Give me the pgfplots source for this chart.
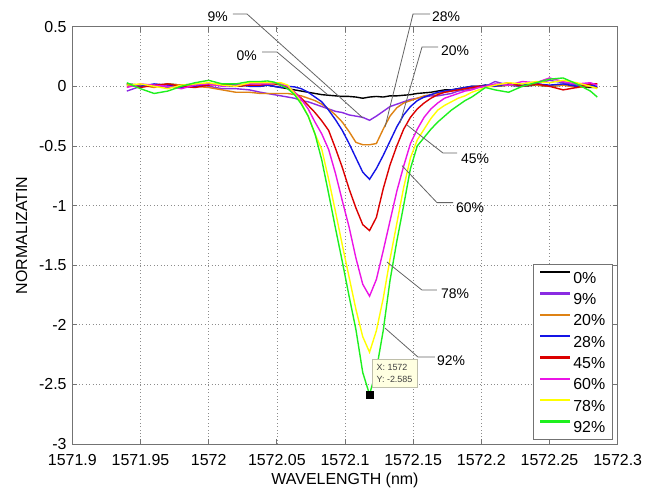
\documentclass[border=0pt]{standalone}
\usepackage{fontspec}
\setmainfont{Liberation Sans}
\usepackage{pgfplots}
\pgfplotsset{compat=1.18}
\usepackage{pgfplotstable}
\definecolor{pctzero}{RGB}{0,0,0}
\definecolor{pctnine}{RGB}{138,43,226}
\definecolor{pcttwenty}{RGB}{222,130,20}
\definecolor{pcttweight}{RGB}{20,20,230}
\definecolor{pctffive}{RGB}{220,0,0}
\definecolor{pctsixty}{RGB}{235,20,230}
\definecolor{pctseight}{RGB}{255,255,0}
\definecolor{pctntwo}{RGB}{30,240,30}
\definecolor{axgray}{RGB}{115,115,115}
\definecolor{leadgray}{RGB}{100,100,100}
\definecolor{tipbg}{RGB}{255,255,225}
\definecolor{tipedge}{RGB}{190,190,170}

\pgfplotstableread{
x        k0     k9     k20    k28    k45    k60    k78    k92
1571.940 0.02  -0.04   0.00   0.01   0.02  -0.01   0.01   0.03
1571.950 0.01   0.00   0.01   0.00  -0.01   0.02   0.02  -0.02
1571.960 0.00   0.01  -0.01   0.02   0.01   0.01   0.00  -0.06
1571.970 0.02  -0.01   0.02   0.01   0.02   0.00  -0.02  -0.04
1571.980 0.01   0.01   0.01  -0.01   0.00  -0.02   0.01   0.00
1571.990 0.00   0.02   0.00   0.00  -0.01   0.01   0.02   0.03
1572.000 0.02   0.00  -0.01   0.02   0.01   0.02   0.03   0.05
1572.010 0.01  -0.02  -0.03   0.01   0.02   0.00   0.01   0.02
1572.020 0.00  -0.02  -0.05   0.02   0.00   0.01   0.00   0.02
1572.030 0.01  -0.03  -0.05   0.00   0.01   0.02   0.03   0.04
1572.038 0.00  -0.05  -0.06   0.00   0.01   0.02   0.03   0.04
1572.043 0.01  -0.06  -0.06   0.01   0.02   0.02   0.03   0.045
1572.048 0.00  -0.07  -0.06   0.00   0.02   0.03   0.03   0.035
1572.053 -0.01 -0.08  -0.06  -0.01   0.01   0.02   0.03   0.01
1572.058 -0.02 -0.09  -0.06   0.00  -0.01   0.00   0.01  -0.02
1572.063 -0.03 -0.10  -0.07  -0.005 -0.05  -0.05  -0.06  -0.07
1572.068 -0.04 -0.12  -0.08  -0.02  -0.10  -0.11  -0.14  -0.15
1572.073 -0.05 -0.13  -0.10  -0.05  -0.16  -0.19  -0.25  -0.25
1572.078 -0.06 -0.15  -0.12  -0.09  -0.22  -0.30  -0.40  -0.40
1572.083 -0.07 -0.17  -0.15  -0.13  -0.29  -0.40  -0.53  -0.62
1572.088 -0.075 -0.19 -0.19  -0.20  -0.37  -0.53  -0.78  -0.90
1572.093 -0.08 -0.21  -0.24  -0.28  -0.52  -0.73  -1.05  -1.19
1572.098 -0.085 -0.22 -0.30  -0.37  -0.68  -0.96  -1.33  -1.47
1572.103 -0.085 -0.24 -0.38  -0.48  -0.86  -1.18  -1.60  -1.76
1572.108 -0.09 -0.25  -0.47  -0.60  -1.02  -1.44  -1.87  -2.04
1572.113 -0.10 -0.26  -0.49  -0.72  -1.16  -1.66  -2.10  -2.40
1572.118 -0.09 -0.285 -0.49  -0.78  -1.21  -1.76  -2.23  -2.585
1572.123 -0.085 -0.25 -0.48  -0.69  -1.10  -1.62  -2.05  -2.38
1572.128 -0.09 -0.21  -0.36  -0.58  -0.86  -1.38  -1.78  -2.05
1572.133 -0.08 -0.17  -0.25  -0.46  -0.66  -1.13  -1.45  -1.63
1572.138 -0.08 -0.15  -0.18  -0.34  -0.50  -0.88  -1.15  -1.30
1572.143 -0.075 -0.13 -0.14  -0.24  -0.36  -0.67  -0.85  -1.00
1572.148 -0.07 -0.11  -0.12  -0.17  -0.26  -0.48  -0.60  -0.69
1572.153 -0.06 -0.10  -0.10  -0.12  -0.19  -0.36  -0.45  -0.50
1572.158 -0.055 -0.09 -0.08  -0.09  -0.14  -0.26  -0.36  -0.43
1572.163 -0.05 -0.08  -0.07  -0.07  -0.10  -0.19  -0.27  -0.36
1572.168 -0.04 -0.08  -0.06  -0.05  -0.07  -0.14  -0.20  -0.30
1572.173 -0.03 -0.07  -0.05  -0.04  -0.05  -0.10  -0.16  -0.25
1572.178 -0.03 -0.06  -0.04  -0.03  -0.04  -0.08  -0.13  -0.20
1572.183 -0.02 -0.04  -0.03  -0.02  -0.03  -0.06  -0.10  -0.16
1572.188 -0.01 -0.03  -0.02  -0.01  -0.02  -0.04  -0.08  -0.12
1572.193 0.00  -0.02  -0.01   0.00  -0.01  -0.03  -0.05  -0.09
1572.198 0.00  -0.01   0.00   0.00   0.00  -0.01  -0.03  -0.05
1572.203 0.01   0.00   0.00   0.01   0.00   0.00  -0.01  -0.01
1572.210 0.00   0.04   0.00   0.00   0.01   0.02   0.01  -0.03
1572.220 0.01   0.01   0.01   0.02   0.03   0.01   0.03  -0.05
1572.230 0.00   0.00   0.02   0.01   0.00   0.04   0.02   0.00
1572.240 0.01   0.02   0.01   0.02   0.02   0.03   0.04   0.03
1572.250 0.00   0.05   0.00   0.01   0.00   0.07   0.03   0.06
1572.260 0.01   0.03   0.01   0.02  -0.03   0.04   0.05   0.07
1572.270 0.00   0.01  -0.01   0.00  -0.01   0.02   0.03   0.02
1572.280 -0.01  0.02   0.00   0.01   0.02   0.03   0.00  -0.04
1572.285 -0.01 -0.01  -0.01   0.00   0.02   0.01  -0.02  -0.09
}\spec

\begin{document}
\begin{tikzpicture}[font=\fontsize{16}{19}\selectfont]
\useasboundingbox (-72.3bp,-54bp) rectangle (584.7bp,444bp);
\begin{axis}[
  at={(0,0)}, anchor=south west,
  scale only axis, width=545.4bp, height=417.3bp,
  xmin=1571.9, xmax=1572.3, ymin=-3, ymax=0.5,
  xtick={1571.9,1571.95,1572,1572.05,1572.1,1572.15,1572.2,1572.25,1572.3},
  xticklabels={1571.9,1571.95,1572,1572.05,1572.1,1572.15,1572.2,1572.25,1572.3},
  ytick={-3,-2.5,-2,-1.5,-1,-0.5,0,0.5},
  yticklabels={-3,-2.5,-2,-1.5,-1,-0.5,0,0.5},
  xtick pos=both, ytick pos=both, xticklabel pos=lower, yticklabel pos=left,
  tick align=inside, major tick length=5bp,
  axis line style={axgray, line width=0.8bp},
  tick style={axgray, line width=0.8bp},
  grid=major,
  major grid style={black!45, line width=0.6bp, dash pattern=on 0.8bp off 2.6bp},
  xticklabel style={anchor=base, yshift=-21bp, inner sep=0pt},
  yticklabel style={anchor=east, xshift=-5.5bp, inner sep=0pt},
  xlabel={WAVELENGTH (nm)}, ylabel={NORMALIZATIN},
  xlabel style={at={(rel axis cs:0.5,-0.0959)}, anchor=base, inner sep=0pt},
  ylabel style={at={(rel axis cs:-0.0928,0.5)}, anchor=center, inner sep=0pt},
  clip=false,
  legend cell align=left,
  legend style={at={(rel axis cs:0.9908,0.0096)}, anchor=south east,
    draw=axgray, line width=0.8bp, fill=white,
    inner xsep=7bp, inner ysep=7bp, row sep=9.15bp,
    nodes={inner sep=0pt, text height=11.6bp, text depth=0pt},
    font=\fontsize{16}{19}\selectfont,
    /tikz/every odd column/.append style={column sep=3.3bp}},
  legend image code/.code={\fill[#1, draw=none] (0bp,4.0bp) rectangle (30bp,6.4bp);},
]
\addplot[color=pctzero, line width=1.4bp]    table[x=x,y=k0]  {\spec}; \addlegendentry{0\%}
\addplot[color=pctnine, line width=1.4bp]    table[x=x,y=k9]  {\spec}; \addlegendentry{9\%}
\addplot[color=pcttwenty, line width=1.4bp]  table[x=x,y=k20] {\spec}; \addlegendentry{20\%}
\addplot[color=pcttweight, line width=1.4bp] table[x=x,y=k28] {\spec}; \addlegendentry{28\%}
\addplot[color=pctffive, line width=1.4bp]   table[x=x,y=k45] {\spec}; \addlegendentry{45\%}
\addplot[color=pctsixty, line width=1.4bp]   table[x=x,y=k60] {\spec}; \addlegendentry{60\%}
\addplot[color=pctseight, line width=1.4bp]  table[x=x,y=k78] {\spec}; \addlegendentry{78\%}
\addplot[color=pctntwo, line width=1.4bp]    table[x=x,y=k92] {\spec}; \addlegendentry{92\%}

% leader lines
\begin{scope}[leadgray, line width=0.8bp]
\draw (axis cs:1572.01786,0.6065) -- (axis cs:1572.02813,0.6065) -- (axis cs:1572.1132,-0.2659);
\draw (axis cs:1572.03913,0.2878) -- (axis cs:1572.05013,0.2878) -- (axis cs:1572.08753,-0.0730);
\draw (axis cs:1572.16235,0.6065) -- (axis cs:1572.14988,0.6065) -- (axis cs:1572.12933,-0.3414);
\draw (axis cs:1572.16822,0.3297) -- (axis cs:1572.15648,0.3297) -- (axis cs:1572.14034,-0.3079);
\draw (axis cs:1572.18214,-0.5596) -- (axis cs:1572.17187,-0.5596) -- (axis cs:1572.14547,-0.3247);
\draw (axis cs:1572.17921,-0.9757) -- (axis cs:1572.16747,-0.9757) -- (axis cs:1572.1418,-0.6653);
\draw (axis cs:1572.16747,-1.7089) -- (axis cs:1572.15647,-1.7089) -- (axis cs:1572.1308,-1.4740);
\draw (axis cs:1572.166,-2.2710) -- (axis cs:1572.15354,-2.2710) -- (axis cs:1572.12933,-2.0277);
\end{scope}
\begin{scope}[every node/.style={inner sep=0pt, font=\fontsize{14}{17}\selectfont}]
\node[anchor=base east] at (axis cs:1572.01419,0.5419) {9\%};
\node[anchor=base east] at (axis cs:1572.03546,0.2206) {0\%};
\node[anchor=base west] at (axis cs:1572.16381,0.5419) {28\%};
\node[anchor=base west] at (axis cs:1572.17041,0.2626) {20\%};
\node[anchor=base west] at (axis cs:1572.18508,-0.6435) {45\%};
\node[anchor=base west] at (axis cs:1572.18141,-1.0546) {60\%};
\node[anchor=base west] at (axis cs:1572.17041,-1.7785) {78\%};
\node[anchor=base west] at (axis cs:1572.16748,-2.3406) {92\%};
\end{scope}

% data tip
\node[anchor=south west, draw=tipedge, line width=0.6bp, fill=tipbg,
  minimum width=45bp, minimum height=27.3bp, inner xsep=4.5bp, inner ysep=2bp,
  align=left, font=\fontsize{9}{12}\selectfont, text=black!75]
  at (axis cs:1572.11958,-2.5252) {X: 1572\\Y: -2.585};
\addplot[only marks, mark=square*, mark size=3.2bp, black, forget plot]
  coordinates {(1572.118,-2.585)};
\end{axis}
\end{tikzpicture}
\end{document}
